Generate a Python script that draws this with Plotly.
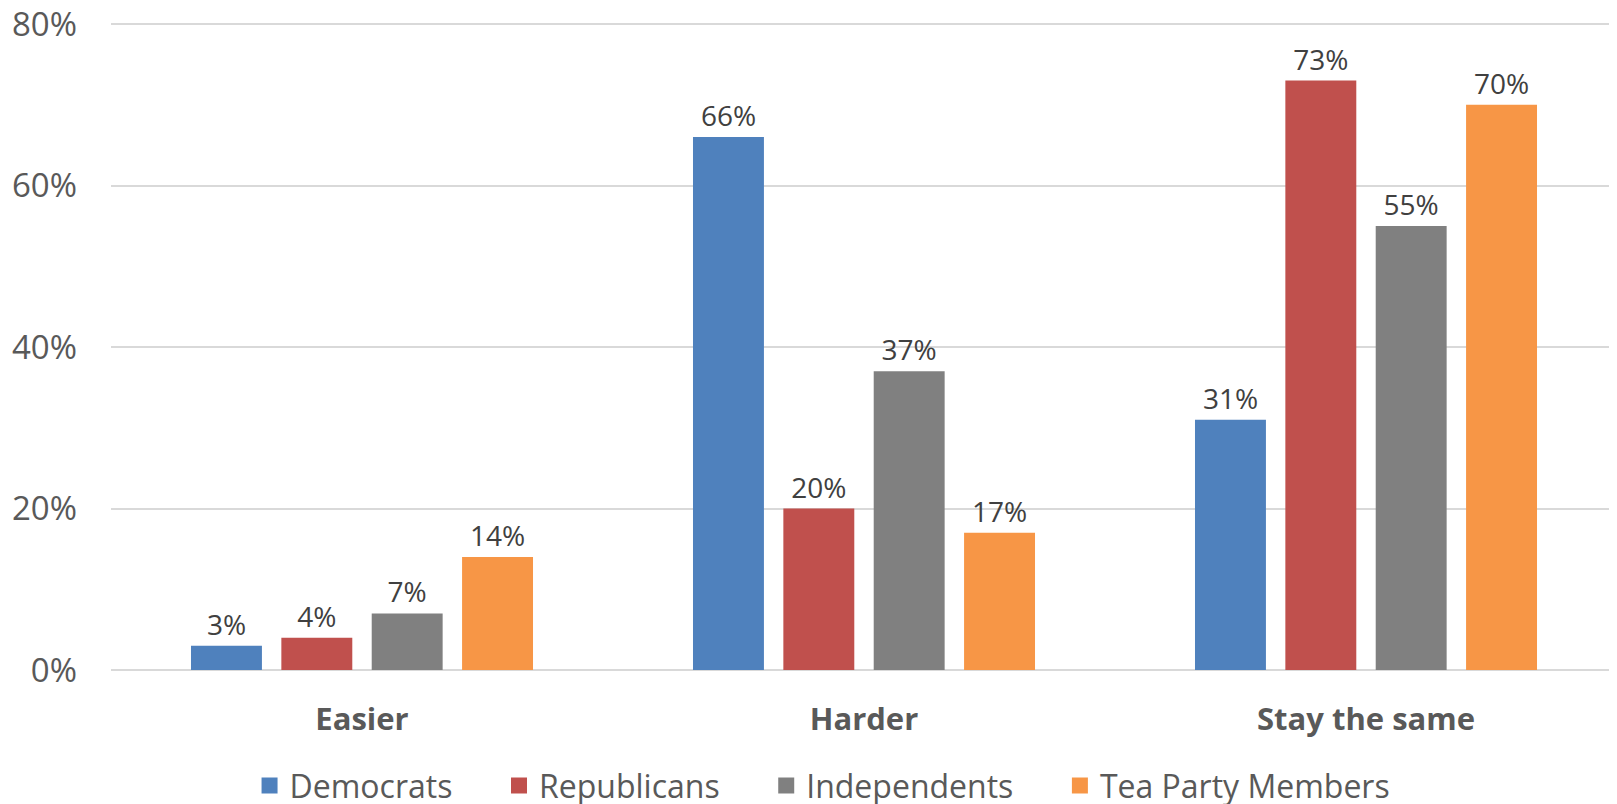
import plotly.graph_objects as go

categories = ["Easier", "Harder", "Stay the same"]
series_names = ["Democrats", "Republicans", "Independents", "Tea Party Members"]
democrats = [3, 66, 31]
republicans = [4, 20, 73]
independents = [7, 37, 55]
tea_party = [14, 17, 70]
colors = ["#4F81BD", "#C0504D", "#808080", "#F79646"]
y_ticks = [0, 20, 40, 60, 80]
y_tick_labels = ["0%", "20%", "40%", "60%", "80%"]

values = [democrats, republicans, independents, tea_party]

FONT = "Open Sans"
fig = go.Figure()
for name, vals, col in zip(series_names, values, colors):
    fig.add_trace(go.Bar(
        name=name, x=categories, y=vals,
        marker=dict(color=col, line=dict(width=14, color="rgba(0,0,0,0)")),
        text=[f"{v}%" for v in vals], textposition="outside", showlegend=False,
        textfont=dict(family=FONT, size=28, color="#404040"), cliponaxis=False,
    ))
# legend entries with larger square symbols
for i, (name, col) in enumerate(zip(series_names, colors)):
    pad = "\u00a0" * 5 if i < len(series_names) - 1 else ""
    fig.add_trace(go.Scatter(
        name=name + pad, x=[None], y=[None], mode="markers",
        marker=dict(symbol="square", size=18, color=col), showlegend=True,
    ))

fig.update_layout(
    width=1617, height=804, barmode="group", bargap=0.28, bargroupgap=0.215,
    plot_bgcolor="white", paper_bgcolor="white",
    margin=dict(l=103, r=8, t=12, b=142, autoexpand=False),
    font=dict(family=FONT, color="#595959"),
    legend=dict(orientation="h", x=0.092, xanchor="left", y=-0.178, yanchor="middle",
                font=dict(family=FONT, size=32, color="#595959"), traceorder="normal",
                itemwidth=30),
)
fig.update_xaxes(showgrid=False, showline=False, ticks="", ticklabelstandoff=28, automargin=False,
                 tickfont=dict(family=FONT, size=31, color="#595959", weight="bold"))
fig.update_yaxes(range=[0, 80.5], tickvals=y_ticks, ticktext=y_tick_labels, automargin=False,
                 showgrid=True, gridcolor="#D9D9D9", gridwidth=2, zeroline=True,
                 zerolinecolor="#D9D9D9", zerolinewidth=2, showline=False,
                 ticklabeloverflow="allow",
                 ticklabelstandoff=33, tickfont=dict(family=FONT, size=33, color="#595959"))
fig.write_html("out.html")
